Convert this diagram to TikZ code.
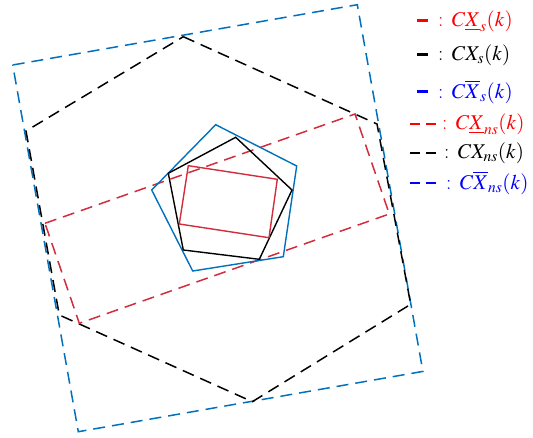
\documentclass[tikz,border=0pt]{standalone}
\usepackage{mathptmx}
\usepackage{tikz}
\definecolor{lineblue}{RGB}{0,114,189}
\definecolor{linered}{RGB}{210,45,60}

\begin{document}
\begin{tikzpicture}[
    x=1pt, y=-1pt,
    solidline/.style={line width=1.4pt, line join=miter},
    dashline/.style={line width=1.5pt, dash pattern=on 12pt off 7pt},
    keysolid/.style={line width=3pt},
    keydash/.style={line width=2.4pt, dash pattern=on 10pt off 6pt},
    legtext/.style={anchor=west, inner sep=0pt, font=\fontsize{21}{24}\selectfont}
]
    \useasboundingbox (0,0) rectangle (533,438);

    % non-strict sets (dashed)
    \draw[dashline, lineblue] (12.7,65) -- (357.3,4.7) -- (422.9,371.4) -- (78.3,431.7) -- cycle;
    \draw[dashline, black] (183.3,36.7) -- (377,124) -- (410.7,304.3) -- (252.3,401.7) -- (59.3,315) -- (26,131) -- cycle;
    \draw[dashline, linered] (45,223.3) -- (355,114) -- (389.3,214) -- (79.3,323.3) -- cycle;

    % strict sets (solid)
    \draw[solidline, lineblue] (215.7,124.7) -- (296.7,166) -- (283.3,256.7) -- (192.7,271) -- (151.7,190) -- cycle;
    \draw[solidline, black] (235.7,137.3) -- (292,190) -- (259.3,259.3) -- (183.3,250) -- (168.3,173.3) -- cycle;
    \draw[solidline, linered] (188.3,165.7) -- (277.3,179.3) -- (269,237.7) -- (179.3,224) -- cycle;

    % legend
    \draw[keysolid, red] (417,21) -- (428,21);
    \node[legtext, red] (leg-rs) at (438,21) {: $C\underline{X}_s(k)$};
    \draw[keysolid, black] (417,55) -- (428,55);
    \node[legtext, black] (leg-ks) at (438,55) {: $CX_s(k)$};
    \draw[keysolid, blue] (417,92) -- (428,92);
    \node[legtext, blue] (leg-bs) at (438,92) {: $C\overline{X}_s(k)$};
    \draw[keydash, red] (410,124) -- (436,124);
    \node[legtext, red] (leg-rn) at (442,124) {: $C\underline{X}_{ns}(k)$};
    \draw[keydash, black] (410,153) -- (436,153);
    \node[legtext, black] (leg-kn) at (444,153) {: $CX_{ns}(k)$};
    \draw[keydash, blue] (410,183) -- (436,183);
    \node[legtext, blue] (leg-bn) at (446,183) {: $C\overline{X}_{ns}(k)$};
\end{tikzpicture}
\end{document}
